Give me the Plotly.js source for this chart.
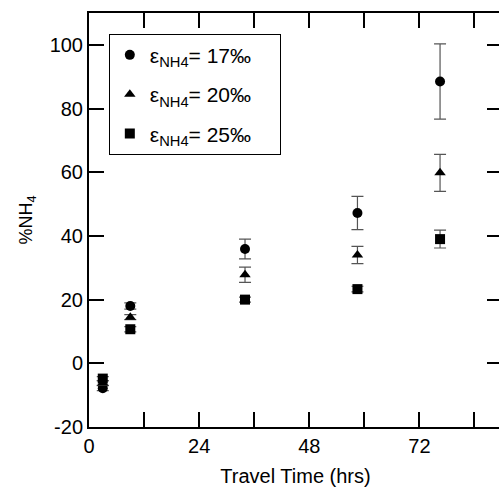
<!DOCTYPE html>
<html>
<head>
<meta charset="utf-8">
<script src="https://cdn.plot.ly/plotly-3.0.1.min.js"></script>
<style>html,body{margin:0;padding:0;overflow:hidden;background:#fff;}</style>
</head>
<body>
<div id="chart"></div>
<script>
// Data
const travelTime = [3, 9, 34, 58.5, 76.5];
const seriesNames = ['ε<sub>NH4</sub>= 17‰\u00A0\u00A0\u00A0\u00A0', 'ε<sub>NH4</sub>= 20‰', 'ε<sub>NH4</sub>= 25‰'];
const pct17 = [-7.8, 18.0, 35.9, 47.2, 88.5];
const err17 = [0.8, 1.0, 3.1, 5.2, 11.8];
const pct20 = [-6.2, 14.5, 27.8, 34.0, 59.8];
const err20 = [0.7, 0.8, 2.4, 2.7, 5.8];
const pct25 = [-4.8, 10.7, 20.0, 23.3, 39.0];
const err25 = [0.6, 0.8, 0.8, 0.9, 2.8];
const xTickVals = [0, 12, 24, 36, 48, 60, 72, 84];
const xTickText = ['0', ' ', '24', ' ', '48', ' ', '72', ' '];
const yTickVals = [-20, 0, 20, 40, 60, 80, 100];
const yTickText = ['-20', '0', '20', '40', '60', '80', '100'];

const symbols = ['circle', 'triangle-up', 'square'];
const ys = [pct17, pct20, pct25];
const errs = [err17, err20, err25];

const traces = ys.map((y, i) => ({
  x: travelTime,
  y: y,
  name: seriesNames[i],
  legendgroup: 'g' + i,
  type: 'scatter',
  mode: 'markers',
  marker: {symbol: symbols[i], size: 10, color: '#000'},
  error_y: {type: 'data', array: errs[i], visible: true, color: '#555', thickness: 1.2, width: 6}
}));

const fam = 'Arial, "Liberation Sans", sans-serif';
const tickFont = {family: fam, size: 20, color: '#000'};

const layout = {
  width: 502,
  height: 493,
  margin: {l: 89, r: 0, t: 13, b: 66},
  paper_bgcolor: '#fff',
  plot_bgcolor: '#fff',
  font: tickFont,
  showlegend: true,
  legend: {
    x: 0.048, y: 0.95, xanchor: 'left', yanchor: 'top',
    bordercolor: '#000', borderwidth: 1, bgcolor: '#fff',
    font: {family: fam, size: 21, color: '#000'},
    tracegroupgap: 9
  },
  xaxis: {
    range: [0, 90],
    tickvals: xTickVals,
    ticktext: xTickText,
    ticks: 'inside', ticklen: 15, tickwidth: 2, tickcolor: '#000',
    showline: true, linewidth: 2, linecolor: '#000', mirror: 'allticks',
    showgrid: false, zeroline: false,
    tickfont: tickFont,
    title: {text: 'Travel Time (hrs)', font: {family: fam, size: 20, color: '#000'}, standoff: 13}
  },
  yaxis: {
    range: [-20, 110],
    tickvals: yTickVals,
    ticktext: yTickText,
    ticks: 'inside', ticklen: 15, tickwidth: 2, tickcolor: '#000',
    showline: true, linewidth: 2, linecolor: '#000', mirror: 'allticks',
    showgrid: false, zeroline: false,
    tickfont: tickFont,
    title: {text: '%NH<sub>4</sub>', font: {family: fam, size: 18, color: '#000'}, standoff: 12}
  }
};

Plotly.newPlot('chart', traces, layout, {displayModeBar: false, staticPlot: true});
</script>
</body>
</html>
